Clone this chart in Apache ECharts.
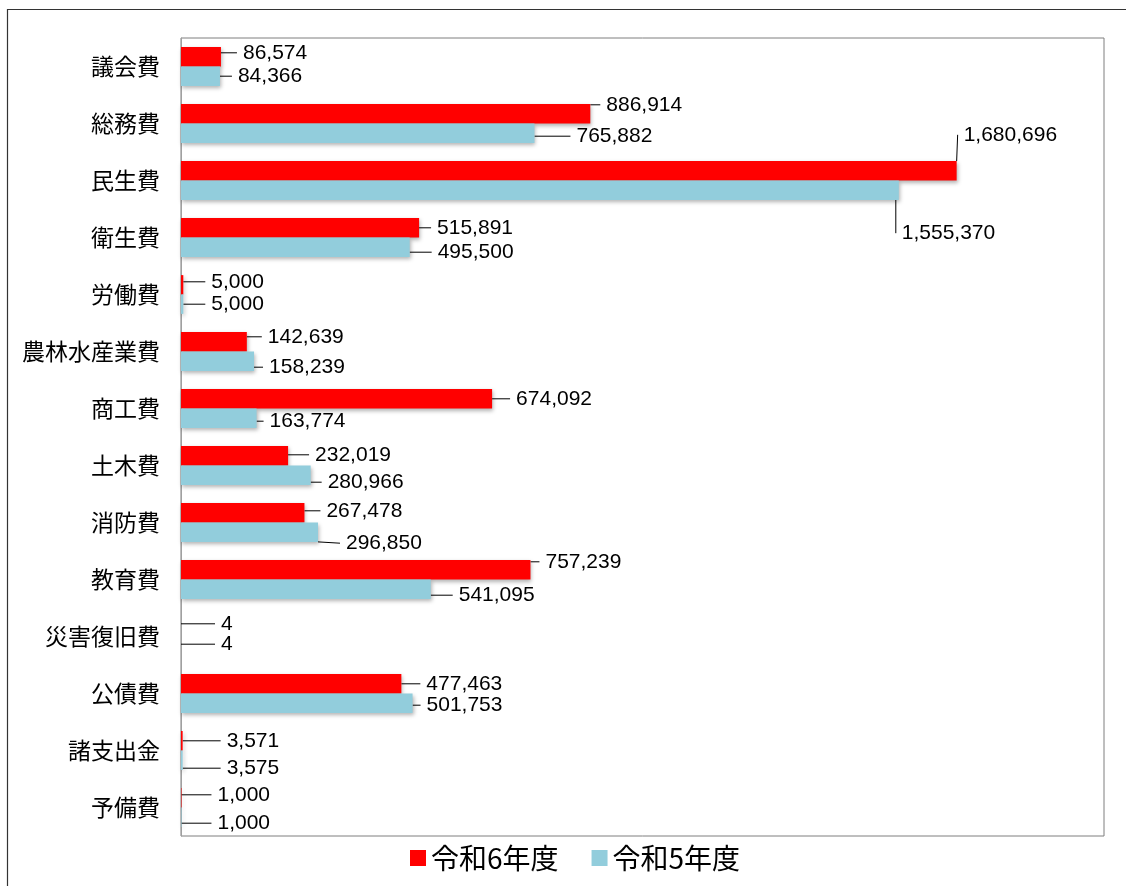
<!DOCTYPE html>
<html><head><meta charset="utf-8">
<script src="https://cdn.jsdelivr.net/npm/echarts@6/dist/echarts.min.js"></script>
<style>html,body{margin:0;padding:0;background:#fff}#c{width:1126px;height:886px}</style>
</head><body><div id="c"></div>
<script>
const categories = ['議会費','総務費','民生費','衛生費','労働費','農林水産業費','商工費','土木費','消防費','教育費','災害復旧費','公債費','諸支出金','予備費'];
const seriesNames = ['令和6年度','令和5年度'];
const r6Values = [86574, 886914, 1680696, 515891, 5000, 142639, 674092, 232019, 267478, 757239, 4, 477463, 3571, 1000];
const r5Values = [84366, 765882, 1555370, 495500, 5000, 158239, 163774, 280966, 296850, 541095, 4, 501753, 3575, 1000];

// label nudges (dx, dy) like manually placed data labels
const r6LabelNudge = [[11,-4],[5,-9],[-4,-36],[7,0],[17,-3],[10,-5],[13,0],[16,-1],[11,-2],[4,-8],[29,-3],[14,0],[33,0],[25,-3]];
const r5LabelNudge = [[7,0],[31,3],[-8,43],[17,5],[17,0],[4,6],[2,3],[6,7],[17,11],[17,6],[29,-2],[3,2],[33,8],[25,6]];

const chart = echarts.init(document.getElementById('c'), null, {renderer:'canvas'});
const fmt = p => p.value.toLocaleString('en-US');
const labelFont = {fontFamily:'Liberation Sans', fontSize:21, color:'#000'};
function mkSeries(name, data, color, nudges, above){
  return {
    name, type:'bar', data,
    barGap:'0%', barCategoryGap:'32%',
    itemStyle:{color, shadowColor:'rgba(0,0,0,0.3)', shadowBlur:4, shadowOffsetX:1, shadowOffsetY:2},
    label:{show:true, position:'right', distance:5, formatter:fmt, padding:[0,0,0,6],
      backgroundColor:'rgba(255,255,255,0.004)', ...labelFont},
    labelLine:{show:true, lineStyle:{color:'#000', width:1}},
    labelLayout: p => {
      const [dx, dy] = nudges[p.dataIndex];
      const out = {dx, dy};
      if (Math.abs(dy) > 30) {
        // long leader: from bar end to a point near the middle of the label's edge
        const r = p.rect, l = p.labelRect;
        const sx = r.x + r.width, sy = r.y + r.height / 2;
        const lx = l.x + dx + l.width * 0.5;
        const ly = above ? (l.y + dy + l.height + 10) : (l.y + dy - 10);
        out.labelLinePoints = [[sx, sy], [lx, ly], [lx, ly]];
      }
      return out;
    },
    emphasis:{disabled:true}, animation:false
  };
}
chart.setOption({
  animation:false,
  backgroundColor:'#fff',
  grid:{left:181, top:38, right:22, bottom:50, show:true, borderColor:'#7f7f7f', borderWidth:1},
  legend:{
    bottom:9, left:405, itemWidth:16, itemHeight:16, itemGap:33, icon:'rect',
    textStyle:{fontFamily:'Noto Sans CJK JP', fontSize:28, color:'#000'},
    data:seriesNames
  },
  xAxis:{type:'value', min:0, max:2000000, axisLabel:{show:false}, splitLine:{show:false}, axisLine:{show:false}, axisTick:{show:false}},
  yAxis:{type:'category', inverse:true, data:categories,
    axisTick:{show:false}, axisLine:{show:true, lineStyle:{color:'#a0a0a0'}},
    axisLabel:{fontFamily:'Noto Sans CJK JP', fontSize:23, color:'#000', margin:21}},
  series:[
    mkSeries(seriesNames[0], r6Values, '#ff0000', r6LabelNudge, true),
    mkSeries(seriesNames[1], r5Values, '#92cddc', r5LabelNudge, false)
  ],
  graphic:[
    {type:'polyline', shape:{points:[[7.5,886],[7.5,9.5],[1126,9.5]]}, style:{stroke:'#333', lineWidth:1.2, fill:null}, silent:true}
  ]
});
</script></body></html>
